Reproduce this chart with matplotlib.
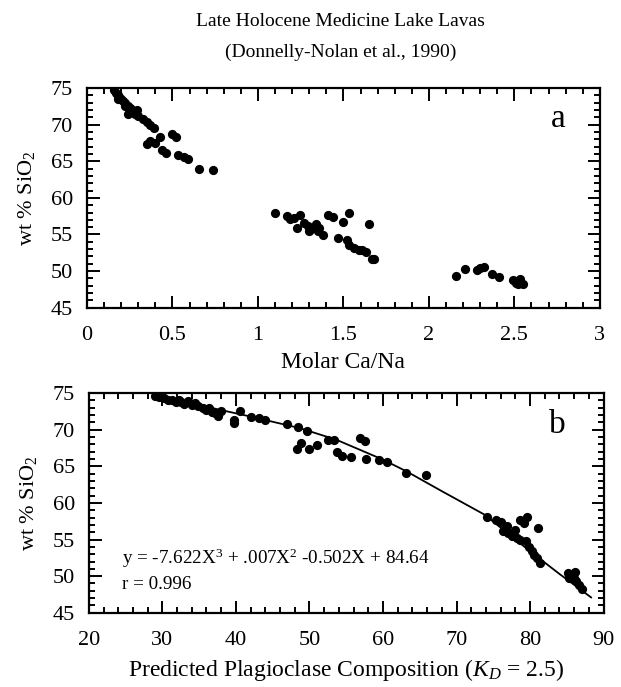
import matplotlib
matplotlib.use("Agg")
import matplotlib.pyplot as plt
from matplotlib.ticker import MultipleLocator

plt.rcParams["font.family"] = ["Liberation Serif", "DejaVu Serif"]
plt.rcParams["mathtext.fontset"] = "custom"
plt.rcParams["mathtext.rm"] = "Liberation Serif"
plt.rcParams["mathtext.it"] = "Liberation Serif:italic"

# panel a: molar Ca/Na vs SiO2
ca_na = [0.16, 0.17, 0.18, 0.19, 0.20, 0.21, 0.22, 0.24, 0.25, 0.26, 0.27, 0.28,
         0.30, 0.33, 0.35, 0.37, 0.39, 0.24, 0.22, 0.18, 0.29,
         0.35, 0.37, 0.40, 0.43, 0.50, 0.52, 0.44, 0.46, 0.53, 0.57, 0.59, 0.655, 0.74,
         1.10, 1.17, 1.19, 1.21, 1.245, 1.23, 1.27, 1.29, 1.31, 1.33, 1.35, 1.36,
         1.34, 1.38, 1.30, 1.41, 1.44, 1.50, 1.53, 1.47, 1.52, 1.53, 1.56, 1.59,
         1.61, 1.63, 1.65, 1.67, 1.68,
         2.16, 2.21, 2.28, 2.30, 2.32, 2.37, 2.41, 2.49, 2.51, 2.53, 2.55, 2.52]
sio2_a = [74.7, 74.3, 74.0, 73.8, 73.5, 73.2, 73.0, 72.6, 72.3, 72.1, 71.8, 71.5,
          71.2, 70.8, 70.4, 69.9, 69.6, 71.4, 72.6, 73.5, 72.0,
          67.3, 67.8, 67.5, 68.3, 68.7, 68.3, 66.5, 66.1, 65.9, 65.6, 65.3, 64.0, 63.8,
          58.0, 57.5, 57.1, 57.3, 57.7, 55.9, 56.6, 56.2, 55.8, 56.0, 55.5, 55.9,
          56.5, 54.9, 55.5, 57.7, 57.4, 56.7, 58.0, 54.5, 54.3, 53.6, 53.2, 52.9,
          52.9, 52.6, 56.5, 51.7, 51.7,
          49.4, 50.3, 50.1, 50.4, 50.5, 49.6, 49.2, 48.8, 48.4, 48.9, 48.3, 48.2]

# panel b: predicted plagioclase composition vs SiO2
plag = [29.0, 29.5, 30.2, 30.8, 31.3, 31.8, 32.3, 32.6, 33.0, 33.5, 34.0, 34.5,
        34.9, 35.5, 35.9, 36.3, 36.8, 37.2, 37.6, 38.0, 39.8, 39.8, 40.5, 42.0,
        43.2, 43.9, 46.9, 48.5, 49.7,
        48.3, 48.8, 49.9, 51.0, 52.5, 53.4, 53.8, 54.4, 55.6, 56.9, 57.6, 57.7,
        59.4, 60.6, 63.1, 65.8,
        74.2, 75.4, 76.1, 76.8, 76.3, 77.0, 77.5, 77.9, 78.2, 78.6, 78.6, 79.2,
        79.6, 81.1, 79.4, 79.9, 80.3, 80.6, 81.0, 81.3,
        85.2, 85.6, 86.0, 85.3, 86.3, 86.6, 87.0, 86.1]
sio2_b = [74.6, 74.4, 74.3, 74.1, 74.0, 73.8, 74.1, 73.7, 73.5, 73.9, 73.4, 73.6,
          73.2, 73.0, 72.7, 72.9, 72.4, 72.2, 71.9, 72.5, 71.3, 70.9, 72.6, 71.7,
          71.6, 71.3, 70.8, 70.3, 69.8,
          67.3, 68.2, 67.4, 67.9, 68.6, 68.6, 66.9, 66.4, 66.2, 68.9, 68.4, 66.0,
          65.9, 65.6, 64.1, 63.8,
          58.1, 57.7, 57.4, 56.8, 56.2, 55.9, 55.5, 56.3, 55.2, 55.0, 57.7, 57.2,
          58.1, 56.6, 54.8, 54.0, 53.4, 52.9, 52.5, 51.8,
          50.5, 50.2, 49.8, 49.7, 49.3, 48.8, 48.3, 50.6]

# fitted curve
fit_x = [29.0, 33.0, 37.4, 41.9, 48.7, 53.7, 60.0, 63.2, 68.0, 73.8, 80.0, 84.0, 86.7, 88.3]
fit_y = [74.8, 73.9, 72.8, 71.8, 70.2, 68.6, 65.9, 64.3, 61.6, 58.4, 53.4, 50.3, 48.3, 47.1]


def style_axis(ax, xmajor, xminor):
    ax.set_ylim(45, 75)
    ax.yaxis.set_major_locator(MultipleLocator(5))
    ax.yaxis.set_minor_locator(MultipleLocator(1))
    ax.xaxis.set_major_locator(MultipleLocator(xmajor))
    ax.xaxis.set_minor_locator(MultipleLocator(xminor))
    ax.tick_params(which="both", direction="in", top=True, right=True,
                   width=1.4, labelsize=16)
    ax.tick_params(axis="y", pad=10)
    ax.tick_params(axis="x", pad=13)
    ax.tick_params(which="major", length=9)
    ax.tick_params(which="minor", length=4.5)
    for s in ax.spines.values():
        s.set_linewidth(1.6)
    ax.set_ylabel(r"wt % SiO$_2$", fontsize=16, labelpad=10)


fig = plt.figure(figsize=(6.21, 6.87), dpi=100)
ax1 = fig.add_axes([0.140, 0.552, 0.826, 0.320])
ax2 = fig.add_axes([0.143, 0.108, 0.829, 0.320])

ax1.scatter(ca_na, sio2_a, s=44, color="black", linewidths=0)
ax1.set_xlim(0, 3)
style_axis(ax1, 0.5, 0.1)
ax1.xaxis.set_major_formatter(plt.FuncFormatter(lambda v, p: "%g" % v))
ax1.set_xlabel("Molar Ca/Na", fontsize=17, labelpad=5)
ax1.text(0.918, 0.86, "a", transform=ax1.transAxes, fontsize=24,
         ha="center", va="center")

ax2.scatter(plag, sio2_b, s=44, color="black", linewidths=0)
ax2.plot(fit_x, fit_y, color="black", lw=1.3)
ax2.set_xlim(20, 90)
style_axis(ax2, 10, 2)
ax2.set_xlabel(r"Predicted Plagioclase Composition ($K_D$ = 2.5)",
               fontsize=17, labelpad=5)
ax2.text(0.91, 0.855, "b", transform=ax2.transAxes, fontsize=24,
         ha="center", va="center")
ax2.text(0.064, 0.25, r"y = -7.622X$^3$ + .007X$^2$ -0.502X + 84.64",
         transform=ax2.transAxes, fontsize=13.8, va="center")
ax2.text(0.064, 0.13, "r = 0.996", transform=ax2.transAxes, fontsize=13.8,
         va="center")

fig.text(0.548, 0.968, "Late Holocene Medicine Lake Lavas", fontsize=14,
         ha="center", va="center")
fig.text(0.548, 0.924, "(Donnelly-Nolan et al., 1990)", fontsize=14,
         ha="center", va="center")

fig.savefig("out.png", dpi=100)
